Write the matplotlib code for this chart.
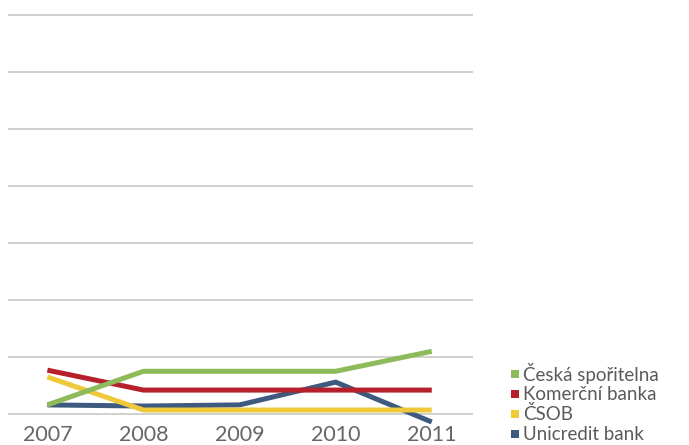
import matplotlib.pyplot as plt
from matplotlib.patches import Rectangle

years = ["2007", "2008", "2009", "2010", "2011"]
ceska = [1.6, 7.5, 7.5, 7.5, 11.0]
komercni = [7.7, 4.2, 4.2, 4.2, 4.2]
csob = [6.5, 0.7, 0.7, 0.7, 0.7]
unicredit = [1.6, 1.4, 1.6, 5.6, -1.4]
grid_vals = [0, 10, 20, 30, 40, 50, 60, 70]

names = ["Česká spořitelna", "Komerční banka", "ČSOB", "Unicredit bank"]
colors = ["#8dbb5a", "#b5202b", "#f0c93a", "#3e5a7e"]

W, H = 689, 445
fig = plt.figure(figsize=(W / 100, H / 100), dpi=100)
ax = fig.add_axes([0.0116, 0.044, 0.675, 0.935])

x = range(len(years))
series = [ceska, komercni, csob, unicredit]
# draw blue first so the others sit on top
for i in [3, 2, 1, 0]:
    ax.plot(x, series[i], color=colors[i], lw=3.6, solid_capstyle="butt",
            solid_joinstyle="round", zorder=3 + (3 - i))

for g in grid_vals:
    ax.axhline(g, color="#c8c8c8", lw=1.2, zorder=1)

ax.set_xlim(-0.41, 4.43)
ax.set_ylim(-2, 71)
ax.set_yticks([])
ax.set_xticks(list(x))
ax.set_xticklabels(years, fontsize=15.5, color="#666666", family="Lato")
ax.tick_params(axis="x", length=0, pad=0)
for s in ax.spines.values():
    s.set_visible(False)

# legend drawn by hand: small squares + labels, rows 20px apart
for k, (name, c) in enumerate(zip(names, colors)):
    yc = 374 + 20 * k
    fig.add_artist(Rectangle((511 / W, 1 - (yc + 4) / H), 8 / W, 8 / H,
                             transform=fig.transFigure, facecolor=c,
                             edgecolor="none"))
    fig.text(523 / W, 1 - yc / H, name, fontsize=13.5, family="Lato",
             color="#5a5a5a", va="center", ha="left")

fig.savefig("out.png", dpi=100)
